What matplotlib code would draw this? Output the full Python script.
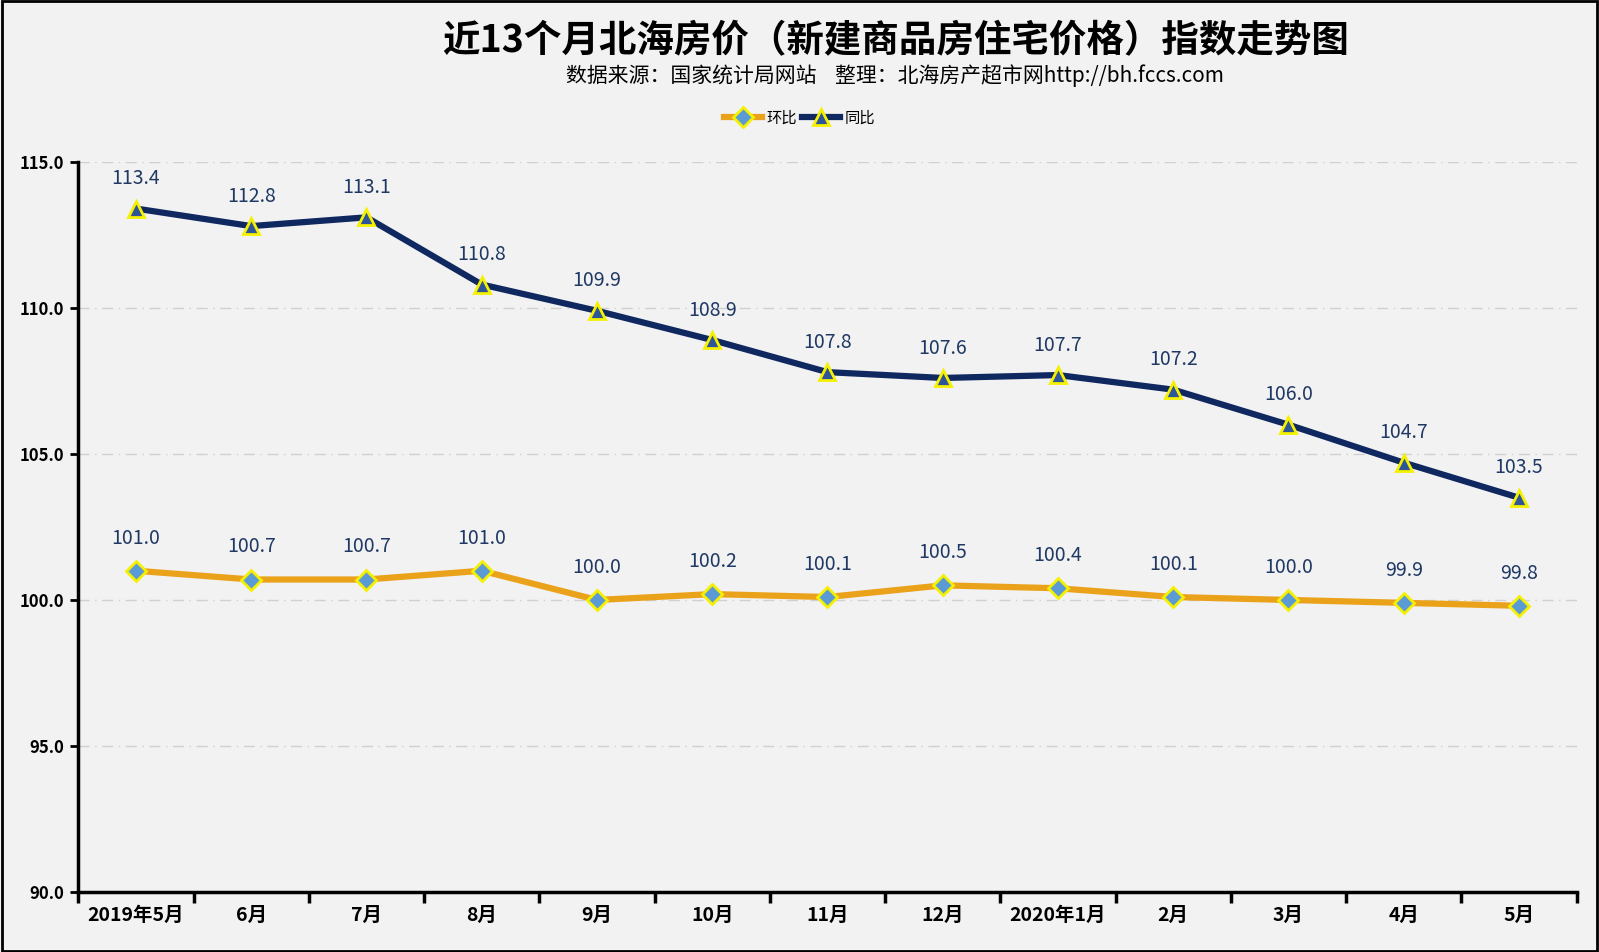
import matplotlib.pyplot as plt
from matplotlib.patches import Rectangle

plt.rcParams['font.family'] = ['Noto Sans CJK SC', 'DejaVu Sans']

months = ['2019年5月', '6月', '7月', '8月', '9月', '10月', '11月', '12月',
          '2020年1月', '2月', '3月', '4月', '5月']
mom = [101.0, 100.7, 100.7, 101.0, 100.0, 100.2, 100.1, 100.5, 100.4, 100.1, 100.0, 99.9, 99.8]
yoy = [113.4, 112.8, 113.1, 110.8, 109.9, 108.9, 107.8, 107.6, 107.7, 107.2, 106.0, 104.7, 103.5]
yticks = [90.0, 95.0, 100.0, 105.0, 110.0, 115.0]

bg = '#F2F2F2'
orange = '#EBA21B'
navy = '#0F2860'
label_col = '#1F3864'

fig = plt.figure(figsize=(15.99, 9.52), dpi=100, facecolor=bg)
ax = fig.add_axes([0.049, 0.063, 0.937, 0.767], facecolor=bg)

x = list(range(len(months)))
ax.plot(x, mom, color=orange, lw=4.5, marker='D', ms=10, mfc='#5B9BD5',
        mec='#F5F000', mew=2, label='环比', zorder=3)
ax.plot(x, yoy, color=navy, lw=4.5, marker='^', ms=12, mfc='#2E5597',
        mec='#F5F000', mew=2, label='同比', zorder=3)

for xi, v in zip(x, mom):
    ax.annotate(f'{v:.1f}', (xi, v), xytext=(0, 16), textcoords='offset points',
                ha='center', va='bottom', fontsize=14, fontweight='medium', color=label_col)
for xi, v in zip(x, yoy):
    ax.annotate(f'{v:.1f}', (xi, v), xytext=(0, 14), textcoords='offset points',
                ha='center', va='bottom', fontsize=14, fontweight='medium', color=label_col)

ax.set_xlim(-0.5, len(months) - 0.5)
ax.set_ylim(90, 115)
ax.set_yticks(yticks)
ax.set_yticklabels([f'{t:.1f}' for t in yticks], fontsize=12, fontweight='bold')
ax.set_xticks([i - 0.5 for i in range(len(months) + 1)])
ax.set_xticklabels([])
ax.set_xticks(x, minor=True)
ax.set_xticklabels(months, minor=True, fontsize=14, fontweight='bold')
ax.tick_params(axis='x', which='minor', length=0, pad=10)
ax.tick_params(axis='x', which='major', length=8, width=2.5, direction='out')
ax.tick_params(axis='y', length=6, width=2, direction='out', pad=4)

for t in yticks[1:]:
    ax.axhline(t, color='#D0D0D0', lw=1, ls=(0, (8, 4, 1, 4)), zorder=1)

for s in ['top', 'right']:
    ax.spines[s].set_visible(False)
ax.spines['left'].set_linewidth(2.5)
ax.spines['bottom'].set_linewidth(2.5)

fig.text(0.56, 0.957, '近13个月北海房价（新建商品房住宅价格）指数走势图',
         ha='center', va='center', fontsize=27, fontweight='bold')
fig.text(0.56, 0.921, '数据来源：国家统计局网站    整理：北海房产超市网http://bh.fccs.com',
         ha='center', va='center', fontsize=15)

fig.legend(loc='center', bbox_to_anchor=(0.5, 0.876), ncol=2, frameon=False,
           fontsize=11, handlelength=2.5, columnspacing=0.3, handletextpad=0.3)

fig.patches.append(Rectangle((0.001, 0.001), 0.998, 0.998, transform=fig.transFigure,
                             fill=False, edgecolor='black', lw=2))

fig.savefig('out.png', dpi=100, facecolor=bg)
